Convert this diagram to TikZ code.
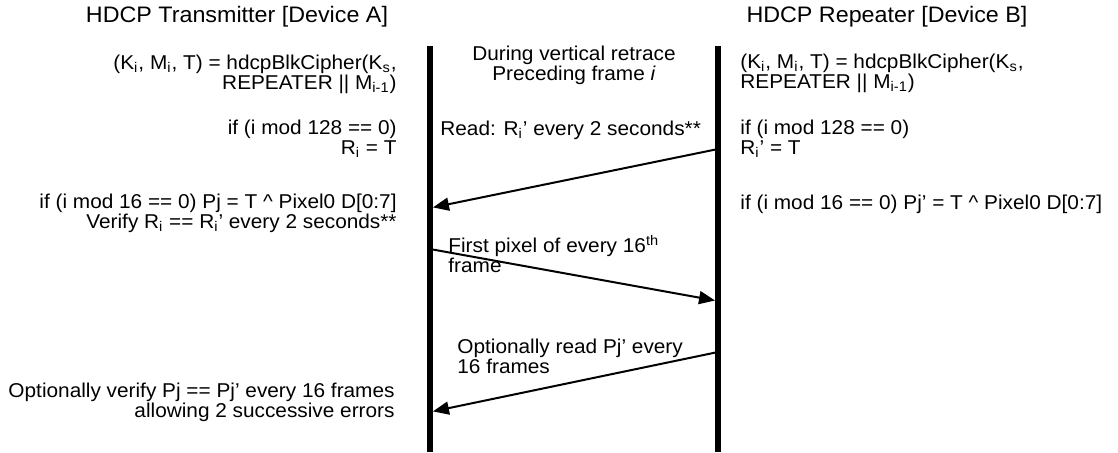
\documentclass[tikz,border=0pt]{standalone}
\usepackage{fontspec}
\setmainfont{Liberation Sans}[FakeStretch=1.04]
\usetikzlibrary{arrows.meta,positioning}

\begin{document}
\begin{tikzpicture}[x=0.5pt,y=-0.5pt,>={Triangle[length=8pt,width=6.5pt]},
    lifeline/.style={line width=3pt},
    msg/.style={->,line width=1pt,shorten >=1.5pt},
    txt/.style={font=\fontsize{10}{10}\selectfont,inner sep=0pt},
    head/.style={font=\fontsize{11.2}{13}\selectfont,inner sep=0pt}]
  \useasboundingbox (0,0) rectangle (1118,452);
  % Draw titles
  \node[head] (titleA) at (237,17) {HDCP Transmitter [Device A]};
  \node[head] (titleB) at (887,17) {HDCP Repeater [Device B]};
  % lifelines
  \coordinate (atop) at (430,46);
  \coordinate (abot) at (430,452);
  \coordinate (btop) at (718,46);
  \coordinate (bbot) at (718,452);
  \draw[lifeline] (atop) -- (abot);
  \draw[lifeline] (btop) -- (bbot);
  % transmitter side
  \node[txt,align=right,anchor=east] (ciphA) at (397,74.5)
    {(K\textsubscript{i}, M\textsubscript{i}, T) = hdcpBlkCipher(K\textsubscript{s},\\REPEATER || M\textsubscript{i-1})};
  \node[txt,align=right,anchor=east] (riA) at (397,139)
    {if (i mod 128 == 0)\\R\textsubscript{i} = T};
  \node[txt,align=right,anchor=east] (pjA) at (397,213)
    {if (i mod 16 == 0) Pj = T \textasciicircum{} Pixel0 D[0:7]\\Verify R\textsubscript{i} == R\textsubscript{i}' every 2 seconds**};
  \node[txt,align=right,anchor=east] (verA) at (395,402)
    {Optionally verify Pj == Pj' every 16 frames\\allowing 2 successive errors};
  % repeater side
  \node[txt,align=left,anchor=west] (ciphB) at (740,73)
    {(K\textsubscript{i}, M\textsubscript{i}, T) = hdcpBlkCipher(K\textsubscript{s},\\REPEATER || M\textsubscript{i-1})};
  \node[txt,align=left,anchor=west] (riB) at (740,139)
    {if (i mod 128 == 0)\\R\textsubscript{i}' = T};
  \node[txt,anchor=west] (pjB) at (740,204)
    {if (i mod 16 == 0) Pj' = T \textasciicircum{} Pixel0 D[0:7]};
  % between the lifelines
  \node[txt,align=center] (retrace) at (574,65)
    {During vertical retrace\\Preceding frame \textit{i}};
  \node[txt,anchor=west] (readR) at (440,130) {Read: R\textsubscript{i}' every 2 seconds**};
  \node[txt,align=left,anchor=west] (firstpx) at (448,254)
    {First pixel of every 16\textsuperscript{th}\\frame};
  \node[txt,align=left,anchor=west] (readP) at (457,356)
    {Optionally read Pj' every\\16 frames};
  % messages
  \coordinate (b1) at (718,149);
  \coordinate (a1) at (430,208);
  \coordinate (a2) at (430,249);
  \coordinate (b2) at (718,301);
  \coordinate (b3) at (718,352);
  \coordinate (a3) at (430,412);
  \draw[msg] (b1) -- (a1);
  \draw[msg] (a2) -- (b2);
  \draw[msg] (b3) -- (a3);
\end{tikzpicture}
\end{document}
